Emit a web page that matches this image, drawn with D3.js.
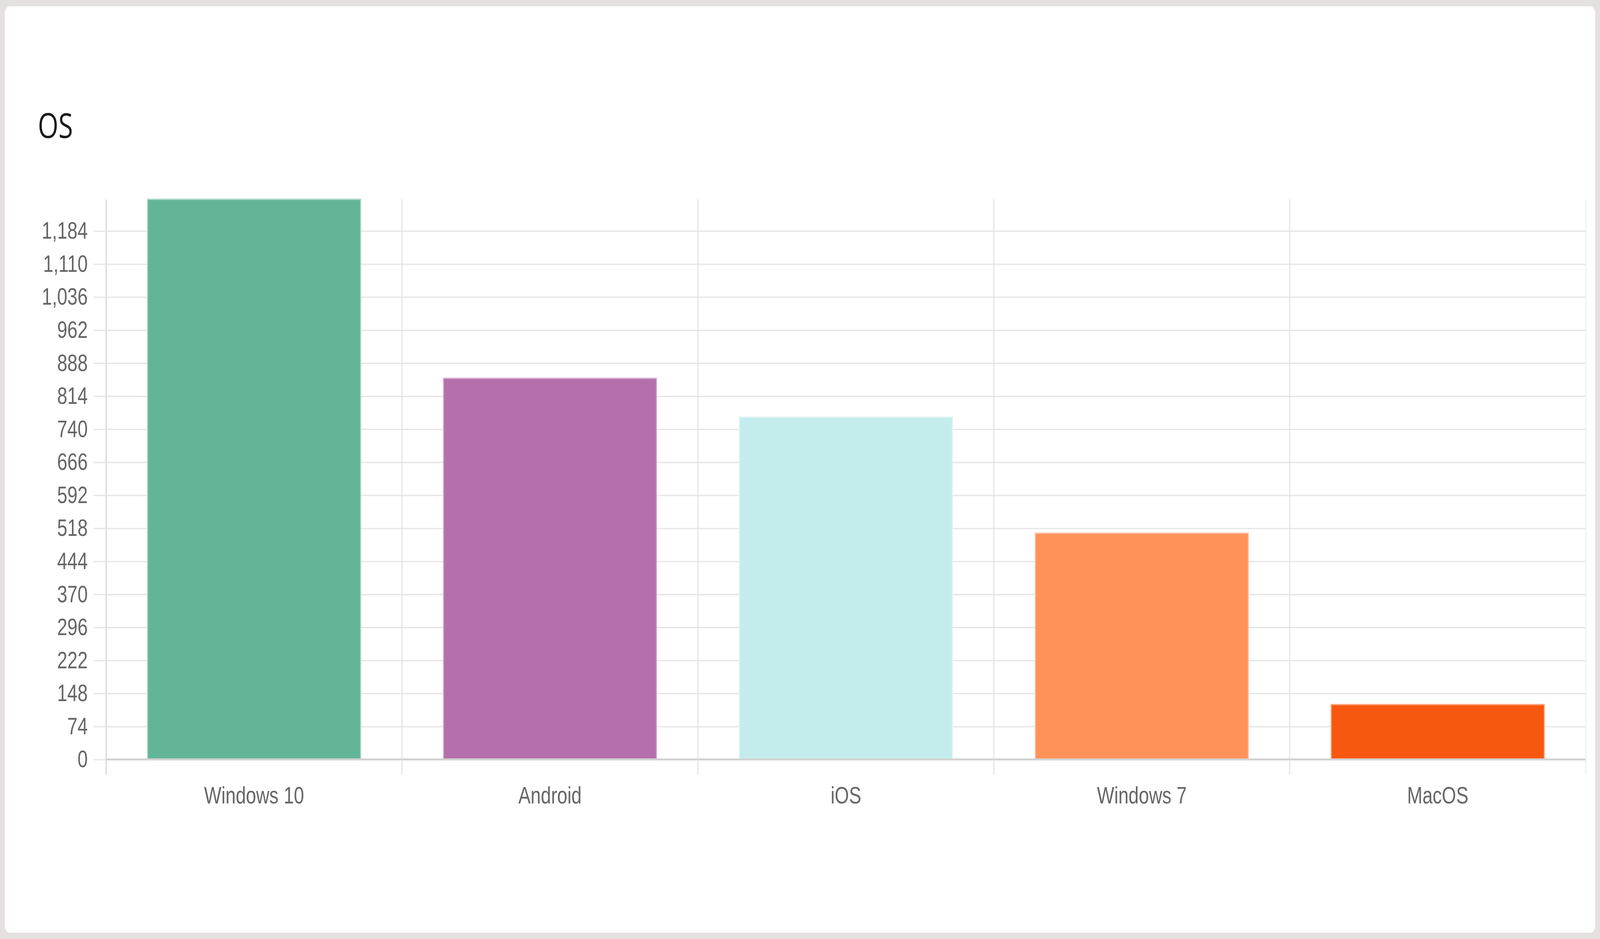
<!DOCTYPE html>
<html>
<head>
<meta charset="utf-8">
<script src="https://cdn.jsdelivr.net/npm/d3@7"></script>
<style>
  html, body { margin: 0; padding: 0; background: #e4e1e0; overflow: hidden; }
  #chart svg { display: block; width: 100vw; height: 100vh; }
</style>
</head>
<body>
<div id="chart"></div>
<script>
// data
const categories = ["Windows 10", "Android", "iOS", "Windows 7", "MacOS"];
const values = [1254, 853, 766, 506, 122];
const colors = ["#63b598", "#b46fac", "#c5ecec", "#ff9259", "#f8570f"];
const yTicks = [0, 74, 148, 222, 296, 370, 444, 518, 592, 666, 740, 814, 888, 962, 1036, 1110, 1184];
const title = "OS";

// drawn in a 1568 x 716 box, then stretched to the window
const W = 1568, H = 716;
const plot = {left: 104, right: 1554, top: 152, bottom: 578.8};

const svg = d3.select("#chart")
  .append("svg")
    .attr("viewBox", `0 0 ${W} ${H}`)
    .attr("preserveAspectRatio", "none");

// frame + white card
svg.append("rect")
    .attr("width", W)
    .attr("height", H)
    .attr("fill", "#e4e1e0");

svg.append("rect")
    .attr("x", 4.8)
    .attr("y", 4.8)
    .attr("width", W - 9.6)
    .attr("height", H - 9.6)
    .attr("rx", 5)
    .attr("fill", "#ffffff");

svg.append("text")
    .attr("x", 37)
    .attr("y", 105)
    .attr("font-family", "'Open Sans', sans-serif")
    .attr("font-size", 26)
    .attr("fill", "#1a1a1a")
    .text(title);

const xScale = d3.scaleBand()
    .domain(categories)
    .range([plot.left, plot.right])
    .padding(0);

const yScale = d3.scaleLinear()
    .domain([0, d3.max(values)])
    .range([plot.bottom, plot.top]);

const tickFont = "'Liberation Sans', Arial, sans-serif";

// horizontal grid
const grid = svg.append("g")
    .attr("transform", `translate(${plot.left}, 0)`)
    .call(d3.axisLeft(yScale)
      .tickValues(yTicks)
      .tickSize(-(plot.right - plot.left))
      .tickFormat(""));
grid.select(".domain").remove();
grid.selectAll("line")
    .attr("stroke", d => d === 0 ? "#d2d2d2" : "#e6e6e6")
    .attr("stroke-width", 1);

// vertical grid at category edges
const edges = categories.map(c => xScale(c)).concat([plot.right]);
svg.append("g")
  .selectAll("line")
  .data(edges)
  .enter().append("line")
    .attr("x1", d => d)
    .attr("x2", d => d)
    .attr("y1", plot.top)
    .attr("y2", plot.bottom + 12)
    .attr("stroke", (d, i) => i === 0 ? "#d4d4d4" : (i === edges.length - 1 ? "#efefef" : "#e2e2e2"))
    .attr("stroke-width", 1);

// y axis labels + little ticks
const yAxis = svg.append("g")
    .attr("transform", `translate(${plot.left}, 0)`)
    .call(d3.axisLeft(yScale)
      .tickValues(yTicks)
      .tickSize(12)
      .tickPadding(6)
      .tickFormat(d3.format(",")));
yAxis.select(".domain").remove();
yAxis.selectAll("line")
    .attr("stroke", "#e6e6e6");
yAxis.selectAll("text")
    .attr("font-family", tickFont)
    .attr("font-size", 18)
    .attr("fill", "#666666");

// bars
const barW = xScale.bandwidth() * 0.72;
svg.append("g")
  .selectAll("rect")
  .data(values)
  .enter().append("rect")
    .attr("x", (d, i) => xScale(categories[i]) + (xScale.bandwidth() - barW) / 2)
    .attr("y", d => yScale(d))
    .attr("width", barW)
    .attr("height", d => yScale(0) - yScale(d))
    .attr("fill", (d, i) => colors[i])
    .attr("stroke", (d, i) => d3.interpolateRgb(colors[i], "#ffffff")(0.45))
    .attr("stroke-width", 1);

// x axis labels
const xAxis = svg.append("g")
    .attr("transform", `translate(0, ${plot.bottom})`)
    .call(d3.axisBottom(xScale)
      .tickSize(0)
      .tickPadding(21));
xAxis.select(".domain").remove();
xAxis.selectAll("text")
    .attr("font-family", tickFont)
    .attr("font-size", 18)
    .attr("fill", "#666666");

// zero line on top of the bars
svg.append("line")
    .attr("x1", plot.left)
    .attr("x2", plot.right)
    .attr("y1", yScale(0))
    .attr("y2", yScale(0))
    .attr("stroke", "#d2d2d2")
    .attr("stroke-width", 1);
</script>
</body>
</html>
